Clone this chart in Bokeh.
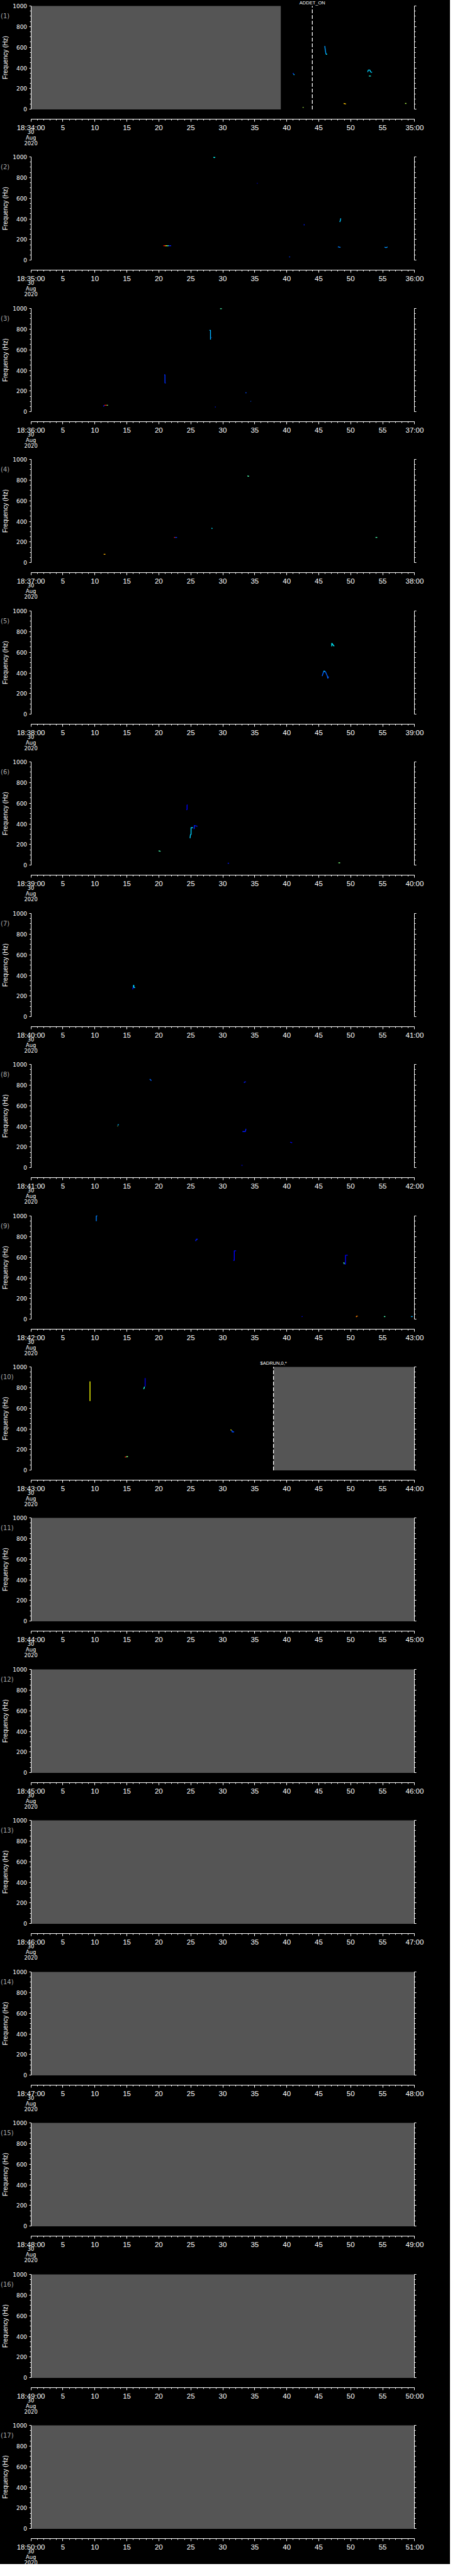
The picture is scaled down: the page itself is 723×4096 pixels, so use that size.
import math
from bokeh.plotting import figure
from bokeh.layouts import column
from bokeh.models import Range1d, LinearAxis, FixedTicker, Label
from bokeh.embed import file_html
from bokeh.resources import INLINE

# ---------------- data ----------------
HOUR = 18
PANEL_START_MIN = list(range(34, 51))          # 17 one-minute panels, 18:34 ... 18:50
DATE_TEXT = "30\nAug\n2020"
FREQ_TICKS = [0, 200, 400, 600, 800, 1000]
FREQ_MINOR = list(range(0, 1001, 50))
TIME_TICKS = list(range(0, 61, 5))
TIME_MINOR = list(range(0, 61))
T_SPAN = (0, 60)
F_SPAN = (0, 1000)

# no-data (grey) intervals: panel number, start s, end s
GAP_PANEL = [1, 10, 11, 12, 13, 14, 15, 16, 17]
GAP_T0 = [0.0, 37.93, 0, 0, 0, 0, 0, 0, 0]
GAP_T1 = [39.07, 60, 60, 60, 60, 60, 60, 60, 60]

# event markers
EVENT_PANEL = [1, 10]
EVENT_T = [44.0, 37.93]
EVENT_TEXT = ["ADDET_ON", "$ADRUN,0,*"]

# spectral tracks: (times s, freqs Hz, intensity 0..1)
TRACKS_P01 = [
    ([40.97, 41.08], [351, 340], 0.18), ([41.08, 41.19], [340, 332], 0.33),
    ([42.5, 42.62], [19, 19], 0.55),
    ([45.95, 45.99, 46.13], [613, 590, 533], 0.28), ([46.13, 46.31], [533, 533], 0.36),
    ([48.9, 49.26], [57, 52], 0.68),
    ([52.66, 52.75, 52.8, 53.0, 53.1, 53.34], [360, 380, 380, 380, 362, 358], 0.33),
    ([52.84, 53.16], [322, 322], 0.4),
    ([58.5, 58.7], [57, 57], 0.55),
]
TRACKS_P02 = [
    ([28.54, 28.68, 28.8], [997, 992, 997], 0.38),
    ([35.33, 35.45], [744, 744], 0.05),
    ([20.71, 20.95], [141, 141], 0.88), ([20.95, 21.1], [141, 141], 0.72),
    ([21.1, 21.25], [141, 141], 0.6), ([21.25, 21.4], [141, 141], 0.5),
    ([21.4, 21.55], [141, 141], 0.38), ([21.55, 21.93], [141, 141], 0.15),
    ([40.4, 40.5], [36, 30], 0.18),
    ([42.7, 42.75], [348, 338], 0.15),
    ([48.3, 48.4, 48.45], [370, 390, 405], 0.32),
    ([48.0, 48.2, 48.4], [130, 128, 124], 0.25),
    ([55.3, 55.45, 55.6, 55.75], [128, 123, 123, 130], 0.27),
]
TRACKS_P03 = [
    ([29.58, 29.85], [997, 997], 0.45),
    ([27.92, 28.08, 28.08], [788, 788, 698], 0.3), ([28.2, 28.25], [720, 716], 0.2),
    ([20.85, 20.96, 20.96, 21.08], [358, 358, 280, 278], 0.17),
    ([11.3, 11.5], [55, 60], 0.15), ([11.5, 11.85], [64, 64], 0.86), ([11.85, 12.05], [64, 64], 0.5),
    ([33.55, 33.7], [185, 185], 0.2),
    ([34.35, 34.42], [103, 100], 0.2),
    ([28.78, 28.9], [47, 47], 0.15),
]
TRACKS_P04 = [
    ([33.85, 34.0, 34.1], [840, 836, 840], 0.45),
    ([28.27, 28.35], [337, 328], 0.35),
    ([22.38, 22.55], [245, 245], 0.85), ([22.55, 22.85], [245, 245], 0.18),
    ([11.38, 11.65], [82, 82], 0.7),
    ([53.88, 54.15], [245, 245], 0.45),
]
TRACKS_P05 = [
    ([47.04, 47.04, 47.12, 47.19, 47.42], [658, 688, 682, 676, 659], 0.36),
    ([45.54, 45.65, 45.77, 45.81, 46.0, 46.12, 46.23, 46.35, 46.42, 46.54],
     [370, 391, 413, 417, 415, 403, 387, 370, 348, 365], 0.22),
    ([45.77, 45.81, 46.0], [413, 417, 415], 0.32),
]
TRACKS_P06 = [
    ([24.5, 24.42, 24.42, 24.3], [583, 583, 540, 537], 0.12),
    ([24.88, 24.95, 25.04, 25.04, 25.35], [261, 297, 297, 364, 364], 0.33),
    ([25.45, 25.54, 25.54, 26.04], [354, 354, 385, 377], 0.15),
    ([19.96, 20.27], [140, 135], 0.45),
    ([30.77, 30.96], [20, 20], 0.15),
    ([48.08, 48.35], [24, 24], 0.5),
]
TRACKS_P07 = [
    ([15.9, 16.0], [265, 290], 0.1),
    ([16.03, 16.03, 16.1, 16.1, 16.3], [285, 305, 305, 283, 283], 0.33),
]
TRACKS_P08 = [
    ([18.58, 18.7, 18.85], [858, 850, 843], 0.22),
    ([33.3, 33.45, 33.6], [823, 830, 831], 0.15),
    ([13.54, 13.58], [401, 405], 0.55), ([13.6, 13.7], [410, 421], 0.3),
    ([33.08, 33.4, 33.55, 33.62], [350, 350, 352, 377], 0.15),
    ([40.54, 40.7, 40.85], [248, 245, 242], 0.12),
    ([32.9, 33.1], [24, 24], 0.05),
]
TRACKS_P09 = [
    ([10.22, 10.22, 10.38], [949, 1000, 1000], 0.25),
    ([25.73, 25.8, 25.85, 26.08], [757, 762, 774, 774], 0.15),
    ([31.65, 31.8, 31.8, 32.08], [571, 571, 663, 663], 0.12),
    ([48.92, 49.0], [552, 534], 0.45), ([49.05, 49.19, 49.19, 49.54], [534, 534, 620, 620], 0.12),
    ([42.38, 42.42], [31, 24], 0.12),
    ([50.85, 50.9, 51.1], [22, 30, 32], 0.75),
    ([55.19, 55.42], [27, 27], 0.45),
    ([59.42, 59.69], [27, 27], 0.3),
]
TRACKS_P10 = [
    ([9.24, 9.24], [669, 860], 0.62),
    ([17.86, 17.86], [809, 891], 0.1), ([17.63, 17.7, 17.76], [785, 795, 809], 0.4),
    ([14.68, 14.9], [128, 130], 0.85), ([14.9, 15.18], [130, 133], 0.5),
    ([31.22, 31.35], [392, 388], 0.62), ([31.45, 31.45, 31.77], [388, 372, 372], 0.2),
]
TRACKS = [TRACKS_P01, TRACKS_P02, TRACKS_P03, TRACKS_P04, TRACKS_P05,
          TRACKS_P06, TRACKS_P07, TRACKS_P08, TRACKS_P09, TRACKS_P10] + [[]] * 7


def jet(v):
    r = min(1.0, max(0.0, 1.5 - abs(4 * v - 3)))
    g = min(1.0, max(0.0, 1.5 - abs(4 * v - 2)))
    b = min(1.0, max(0.0, 1.5 - abs(4 * v - 1)))
    return "#%02x%02x%02x" % (int(r * 255), int(g * 255), int(b * 255))


# ---------------- layout (pixels at 0.705 of the reference) ----------------
W = 715
PLOT_LEFT = 48.6          # x of t=0 inside each figure
PLOT_W = 609.8            # 60 s
PLOT_TOP = 16.9           # y of 1000 Hz inside a panel
PX_PER_HZ = 0.16448
AXIS_GAP = 16.0           # px between 0 Hz and the time axis line
PITCH = 240.45
N = len(PANEL_START_MIN)
tops = [round(PITCH * k) for k in range(N + 1)]

px_per_s = PLOT_W / (T_SPAN[1] - T_SPAN[0])
T_LEFT = T_SPAN[0] - PLOT_LEFT / px_per_s
T_RIGHT = T_LEFT + W / px_per_s
TIME_AXIS_F = -AXIS_GAP / PX_PER_HZ

GREY = "#555555"
TICK_FONT = "'Liberation Sans Narrow', 'Liberation Sans', sans-serif"
NUM_FONT = "DejaVu Sans"

figs = []
for i, m in enumerate(PANEL_START_MIN):
    if i == 0:
        h = tops[1] - 8
        top_px = PLOT_TOP - 8
    elif i == N - 1:
        h = 238
        top_px = PLOT_TOP
    else:
        h = tops[i + 1] - tops[i]
        top_px = PLOT_TOP
    f_top = F_SPAN[1] + top_px / PX_PER_HZ
    f_bot = f_top - h / PX_PER_HZ

    p = figure(width=W, height=h, output_backend="svg", toolbar_location=None,
               title=None, x_range=Range1d(T_LEFT, T_RIGHT), y_range=Range1d(f_bot, f_top),
               min_border=0, min_border_left=0, min_border_right=0,
               min_border_top=0, min_border_bottom=0,
               background_fill_color="black", border_fill_color="black",
               outline_line_color=None)
    p.grid.visible = False

    # time axis
    xa = p.xaxis[0]
    xa.fixed_location = TIME_AXIS_F
    xa.bounds = T_SPAN
    xa.ticker = FixedTicker(ticks=TIME_TICKS, minor_ticks=TIME_MINOR)
    overrides = {t: str(t) for t in TIME_TICKS}
    overrides[0] = "%d:%02d:00" % (HOUR, m)
    overrides[60] = "%02d:00" % (m + 1)
    xa.major_label_overrides = overrides
    xa.axis_line_color = "white"
    xa.major_tick_line_color = "white"
    xa.minor_tick_line_color = "white"
    xa.major_tick_in = 0
    xa.major_tick_out = 4
    xa.minor_tick_in = 0
    xa.minor_tick_out = 2
    xa.major_label_standoff = 3
    xa.major_label_text_color = "white"
    xa.major_label_text_font = TICK_FONT
    xa.major_label_text_font_size = "11.5px"

    # frequency axes
    ya = p.yaxis[0]
    ya.fixed_location = T_SPAN[0]
    ya.bounds = F_SPAN
    ya.ticker = FixedTicker(ticks=FREQ_TICKS, minor_ticks=FREQ_MINOR)
    ya.axis_line_color = "white"
    ya.major_tick_line_color = "white"
    ya.minor_tick_line_color = "white"
    ya.major_tick_in = 0
    ya.major_tick_out = 3
    ya.minor_tick_in = 0
    ya.minor_tick_out = 2
    ya.major_label_standoff = 3
    ya.major_label_text_color = "white"
    ya.major_label_text_font = NUM_FONT
    ya.major_label_text_font_size = "9px"

    ra = LinearAxis(fixed_location=T_SPAN[1], bounds=F_SPAN,
                    ticker=FixedTicker(ticks=FREQ_TICKS, minor_ticks=FREQ_MINOR),
                    axis_line_color="white", major_tick_line_color="white",
                    minor_tick_line_color="white", major_tick_in=0, major_tick_out=3,
                    minor_tick_in=0, minor_tick_out=2,
                    major_label_overrides={t: "" for t in FREQ_TICKS},
                    major_label_standoff=0)
    p.add_layout(ra, "right")

    # no-data mask
    for gp, g0, g1 in zip(GAP_PANEL, GAP_T0, GAP_T1):
        if gp == i + 1:
            p.quad(left=[g0], right=[g1], bottom=[F_SPAN[0]], top=[F_SPAN[1]],
                   fill_color=GREY, line_color=None)

    # tracks
    for ts, fs, lev in TRACKS[i]:
        p.line(x=ts, y=fs, line_color=jet(lev), line_width=1.4)

    # events
    for ep, et, etx in zip(EVENT_PANEL, EVENT_T, EVENT_TEXT):
        if ep == i + 1:
            p.segment(x0=[et], y0=[F_SPAN[0]], x1=[et], y1=[F_SPAN[1]], line_color="white",
                      line_width=1.3, line_dash="6 3")
            p.add_layout(Label(x=et, y=F_SPAN[1], y_offset=(4.9 if i == 0 else 6.1), text=etx,
                               text_align="center", text_baseline="middle",
                               text_color="white", text_font=TICK_FONT,
                               text_font_size="7.5px"))

    # axis title
    p.add_layout(Label(x=T_SPAN[0], y=(F_SPAN[0] + F_SPAN[1]) / 2, x_offset=-41.1, y_offset=0,
                       angle=math.pi / 2, text="Frequency (Hz)",
                       text_align="center", text_baseline="middle",
                       text_color="white", text_font="Liberation Sans", text_font_size="10px"))
    # panel number
    p.add_layout(Label(x=T_SPAN[0], y=F_SPAN[1], x_offset=-48.0, y_offset=-16.2,
                       text="(%d)" % (i + 1), text_align="left", text_baseline="middle",
                       text_color="#a8a8a8", text_font=NUM_FONT, text_font_size="10px"))
    # date under first tick
    p.add_layout(Label(x=T_SPAN[0], y=TIME_AXIS_F, y_offset=-15.5, text=DATE_TEXT,
                       text_align="center", text_baseline="top", text_line_height=0.88,
                       text_color="white", text_font=NUM_FONT, text_font_size="8.3px"))
    figs.append(p)

p = column(*figs, spacing=0, background="black")
open("out.html", "w").write(file_html(p, INLINE))
